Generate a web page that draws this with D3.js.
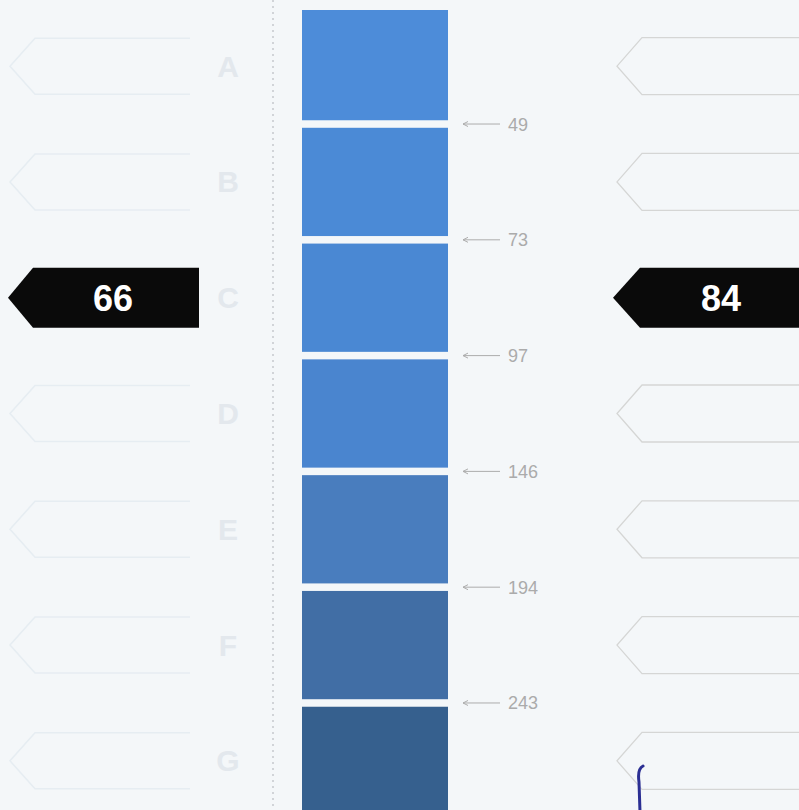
<!DOCTYPE html>
<html>
<head>
<meta charset="utf-8">
<script src="https://cdn.jsdelivr.net/npm/d3@7"></script>
<style>
  body { margin: 0; background: #f4f7f9; }
  svg { display: block; }
</style>
</head>
<body>
<svg width="799" height="810"></svg>
<script>
// energy classes, top to bottom
const classes = ['A', 'B', 'C', 'D', 'E', 'F', 'G'];
const bandColors = ['#4d8cd9', '#4b8ad6', '#4a88d3', '#4a85cf', '#497dbe', '#416ea5', '#36608e'];
// class limits printed between the bands
const limits = [49, 73, 97, 146, 194, 243];
// the two rating arrows
const leftRating = { cls: 'C', value: 66 };
const rightRating = { cls: 'C', value: 84 };

const svg = d3.select('svg');

const y = d3.scaleBand()
    .domain(classes)
    .range([12, 815])
    .paddingInner(0.065)
    .paddingOuter(0);

const gap = y.step() - y.bandwidth();

// dotted separator
svg.append('line')
    .attr('x1', 273).attr('x2', 273)
    .attr('y1', 0).attr('y2', 810)
    .style('stroke', '#b9bdc2')
    .style('stroke-width', 1.2)
    .style('stroke-dasharray', '2,4');

// faint ghost arrows on the left (show-through of the scan)
function arrowPath(xTip, xBody, xEnd, cy, h) {
    const p = d3.path();
    p.moveTo(xEnd, cy - h / 2);
    p.lineTo(xBody, cy - h / 2);
    p.lineTo(xTip, cy);
    p.lineTo(xBody, cy + h / 2);
    p.lineTo(xEnd, cy + h / 2);
    return p.toString();
}

svg.selectAll('.ghost')
    .data(classes.filter(c => c !== leftRating.cls))
    .enter()
    .append('path')
    .attr('d', c => arrowPath(10, 35, 190, y(c) + y.bandwidth() / 2, 56))
    .style('fill', 'none')
    .style('stroke', '#e6edf2')
    .style('stroke-width', 1.5);

// faint class letters
svg.selectAll('.letter')
    .data(classes)
    .enter()
    .append('text')
    .attr('x', 228)
    .attr('y', c => y(c) + y.bandwidth() / 2)
    .attr('dy', '0.35em')
    .attr('text-anchor', 'middle')
    .style('font-family', 'Liberation Sans, Arial, sans-serif')
    .style('font-weight', 'bold')
    .style('font-size', '30px')
    .style('fill', '#e3e8ed')
    .text(c => c);

// colour bands
svg.selectAll('.band')
    .data(classes)
    .enter()
    .append('rect')
    .attr('x', 302)
    .attr('y', (c, i) => i === 0 ? 10 : y(c))
    .attr('width', 146)
    .attr('height', (c, i) => i === 0 ? y.bandwidth() + 2 : y.bandwidth())
    .style('fill', (c, i) => bandColors[i]);

// limit labels with small arrows
const limitY = (d, i) => y(classes[i + 1]) - gap / 2;

const lim = svg.selectAll('.limit')
    .data(limits)
    .enter()
    .append('g')
    .attr('transform', (d, i) => `translate(0,${limitY(d, i)})`);

lim.append('line')
    .attr('x1', 463).attr('x2', 500)
    .attr('y1', 0).attr('y2', 0)
    .style('stroke', '#adadad')
    .style('stroke-width', 1);

lim.append('path')
    .attr('d', 'M463,0 L468,-2.5 M463,0 L468,2.5')
    .style('stroke', '#adadad')
    .style('stroke-width', 1)
    .style('fill', 'none');

lim.append('text')
    .attr('x', 508)
    .attr('dy', '0.36em')
    .style('font-family', 'Liberation Sans, Arial, sans-serif')
    .style('font-size', '18px')
    .style('fill', '#ababab')
    .text(d => d);

// empty outline arrows on the right
svg.selectAll('.slot')
    .data(classes.filter(c => c !== rightRating.cls))
    .enter()
    .append('path')
    .attr('d', c => arrowPath(617, 642, 812, y(c) + y.bandwidth() / 2, 57))
    .style('fill', 'none')
    .style('stroke', '#d5d6d5')
    .style('stroke-width', 1.3);

// black rating arrows
const ratings = [
    { r: leftRating, tip: 8, body: 33, end: 199, tx: 113 },
    { r: rightRating, tip: 613, body: 640, end: 812, tx: 721 }
];

const rg = svg.selectAll('.rating')
    .data(ratings)
    .enter()
    .append('g')
    .attr('transform', d => `translate(0,${y(d.r.cls) + y.bandwidth() / 2})`);

rg.append('path')
    .attr('d', d => arrowPath(d.tip, d.body, d.end, 0, 60))
    .style('fill', '#0a0a0a');

rg.append('text')
    .attr('x', d => d.tx)
    .attr('dy', '0.36em')
    .attr('text-anchor', 'middle')
    .style('font-family', 'Liberation Sans, Arial, sans-serif')
    .style('font-weight', 'bold')
    .style('font-size', '36px')
    .style('fill', '#ffffff')
    .text(d => d.r.value);

// blue pen stroke at the bottom
svg.append('path')
    .attr('d', 'M643,766 C639,768 638,775 639,782 L640,812')
    .style('fill', 'none')
    .style('stroke', '#2b2f93')
    .style('stroke-width', 3)
    .style('stroke-linecap', 'round');
</script>
</body>
</html>
